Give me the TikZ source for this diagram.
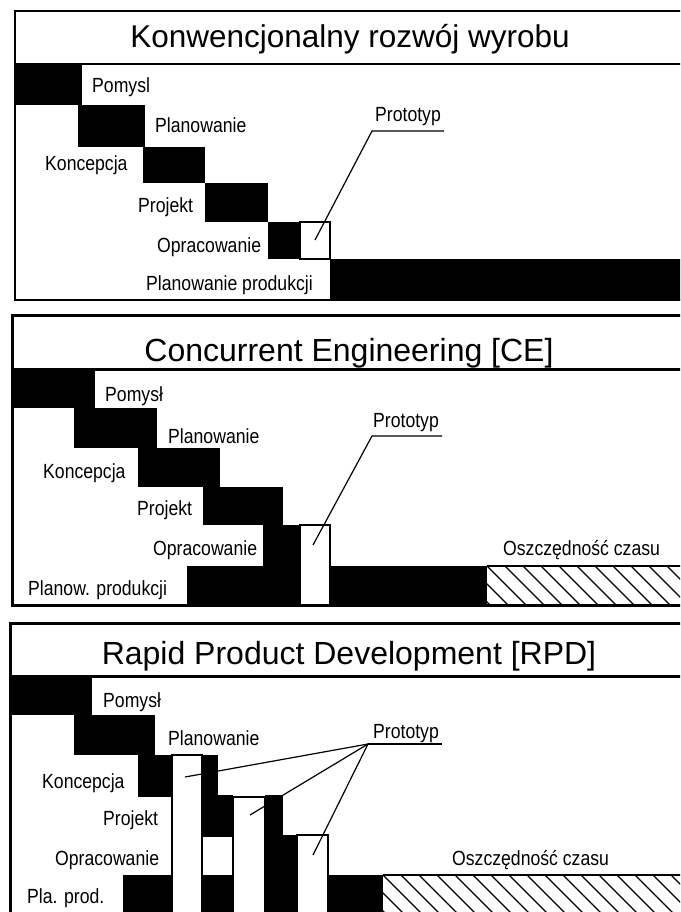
\documentclass[tikz,border=0pt]{standalone}
\usepackage{fontspec}
\setmainfont{Liberation Sans}
\newfontfamily\lblfont{Liberation Sans}[FakeStretch=0.86]
\begin{document}
\begin{tikzpicture}[x=1pt,y=-1pt,
  lbl/.style={anchor=base west, inner sep=0pt, font=\lblfont\fontsize{20.5}{20.5}\selectfont},
  ttl/.style={anchor=base, inner sep=0pt, font=\fontsize{32}{32}\selectfont},
  proto/.style={draw=black, fill=white, line width=1.2pt},
  leader/.style={line width=1.2pt},
  frameA/.style={line width=2pt},
  frameB/.style={line width=3pt},
  hatchln/.style={line width=1.2pt}]
\useasboundingbox (0,0) rectangle (680,912);
\fill[white] (0,0) rectangle (680,912);
\begin{scope}
\clip (0,0) rectangle (680,912);
% ---------------- Panel 1 ----------------
\fill (15,64) rectangle (82,105);
\fill (78,105) rectangle (145,147);
\fill (143,147) rectangle (205,183);
\fill (205,183) rectangle (268,222);
\fill (268,222) rectangle (300,259);
\draw[proto] (300,222) rectangle (330,259);
\fill (330,259) rectangle (700,300);
\draw[frameA] (15,11) rectangle (700,300);
\draw[frameA] (15,64) -- (700,64);
\node[ttl, font=\fontsize{31.5}{31.5}\selectfont] (t1) at (350,48) {Konwencjonalny rozwój wyrobu};
\node[lbl] (a1) at (92,93) {Pomysl};
\node[lbl] (a2) at (155,133) {Planowanie};
\node[lbl] (a3) at (45,171) {Koncepcja};
\node[lbl] (a4) at (138,212) {Projekt};
\node[lbl] (a5) at (157,252) {Opracowanie};
\node[lbl] (a6) at (146,290) {Planowanie produkcji};
\node[lbl] (ap) at (375,122) {Prototyp};
\coordinate (p1s) at (315,240);
\coordinate (p1k) at (372,131);
\coordinate (p1e) at (444,131);
\draw[leader] (p1s) -- (p1k) -- (p1e);
% ---------------- Panel 2 ----------------
\fill (12,369) rectangle (95,408);
\fill (74,408) rectangle (157,448);
\fill (138,448) rectangle (220,487);
\fill (203,487) rectangle (283,525);
\fill (263,525) rectangle (300,566);
\fill (187,566) rectangle (300,605);
\draw[proto] (300,525) rectangle (330,605);
\fill (330,566) rectangle (487,605);
\begin{scope}
\clip (487,566) rectangle (700,605);
\foreach \i in {-2,...,12} \draw[hatchln] ({487+\i*18},566) -- ++(40,40);
\end{scope}
\draw[line width=1.2pt] (487,566) -- (700,566);
\draw[frameB] (12,315) rectangle (700,605);
\draw[frameB] (12,369) -- (700,369);
\node[ttl] (t2) at (349,361) {Concurrent Engineering [CE]};
\node[lbl] (b1) at (105,401) {Pomysł};
\node[lbl] (b2) at (168,443) {Planowanie};
\node[lbl] (b3) at (43,478) {Koncepcja};
\node[lbl] (b4) at (137,515) {Projekt};
\node[lbl] (b5) at (153,555) {Opracowanie};
\node[lbl] (b6) at (28,595) {Planow. produkcji};
\node[lbl] (bp) at (373,427) {Prototyp};
\node[lbl] (bo) at (503,555) {Oszczędność czasu};
\coordinate (p2s) at (313,545);
\coordinate (p2k) at (372,436);
\coordinate (p2e) at (442,436);
\draw[leader] (p2s) -- (p2k) -- (p2e);
% ---------------- Panel 3 ----------------
\fill (10,676) rectangle (92,715);
\fill (74,715) rectangle (155,755);
\fill (138,755) rectangle (172,797);
\fill (202,755) rectangle (218,795);
\fill (202,795) rectangle (233,837);
\fill (123,875) rectangle (172,930);
\fill (202,875) rectangle (233,930);
\fill (265,795) rectangle (283,835);
\fill (265,835) rectangle (297,930);
\fill (328,875) rectangle (383,930);
\draw[proto] (172,755) rectangle (202,930);
\draw[proto] (233,797) rectangle (265,930);
\draw[proto] (297,835) rectangle (328,930);
\begin{scope}
\clip (383,875) rectangle (700,930);
\foreach \i in {-2,...,18} \draw[hatchln] ({383+\i*18},875) -- ++(45,45);
\end{scope}
\draw[line width=1.2pt] (383,875) -- (700,875);
\draw[frameB] (10,623) rectangle (700,930);
\draw[frameB] (10,676) -- (700,676);
\node[ttl] (t3) at (349,664) {Rapid Product Development [RPD]};
\node[lbl] (c1) at (103,707) {Pomysł};
\node[lbl] (c2) at (168,745) {Planowanie};
\node[lbl] (c3) at (42,788) {Koncepcja};
\node[lbl] (c4) at (103,825) {Projekt};
\node[lbl] (c5) at (55,865) {Opracowanie};
\node[lbl] (c6) at (27,903) {Pla. prod.};
\node[lbl] (cp) at (373,738) {Prototyp};
\node[lbl] (co) at (452,865) {Oszczędność czasu};
\coordinate (p3k) at (368,744);
\coordinate (p3e) at (442,744);
\coordinate (p3a) at (185,777);
\coordinate (p3b) at (250,815);
\coordinate (p3c) at (313,855);
\draw[leader] (p3k) -- (p3e);
\draw[leader] (p3k) -- (p3a);
\draw[leader] (p3k) -- (p3b);
\draw[leader] (p3k) -- (p3c);
\end{scope}
\end{tikzpicture}
\end{document}
